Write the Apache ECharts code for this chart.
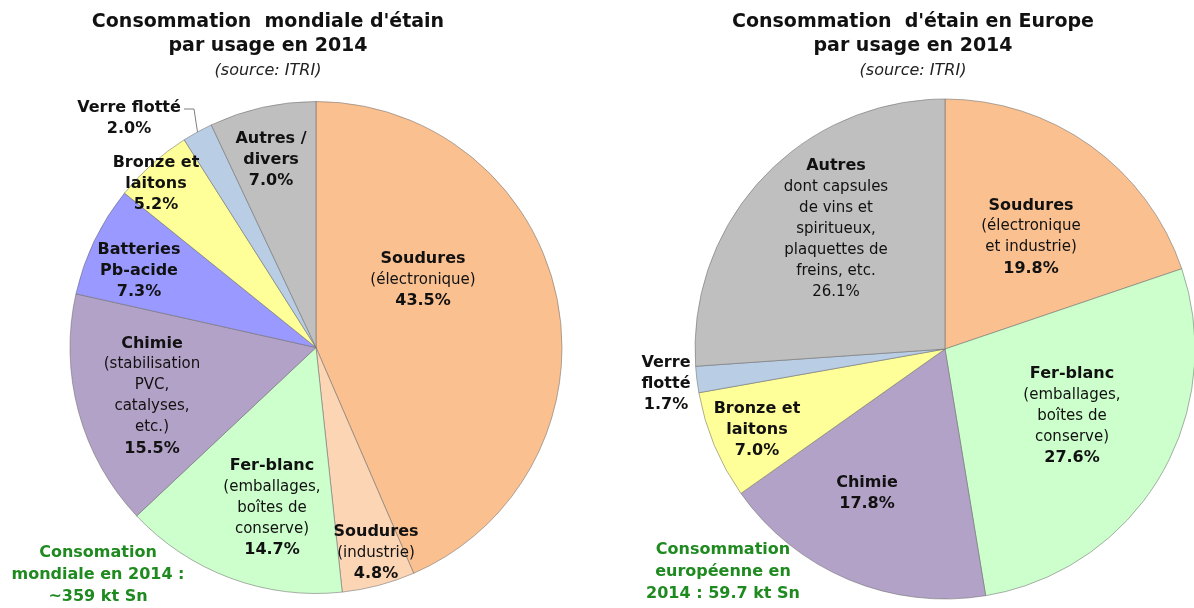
<!DOCTYPE html>
<html>
<head>
<meta charset="utf-8">
<script src="https://cdn.jsdelivr.net/npm/echarts@6/dist/echarts.min.js"></script>
<style>
  html, body { margin: 0; padding: 0; background: #ffffff; }
  #chart { width: 1194px; height: 608px; }
</style>
</head>
<body>
<div id="chart"></div>
<script>
// World tin consumption by use, 2014 (%)
const worldCategories = ['Soudures (électronique)', 'Soudures (industrie)', 'Fer-blanc', 'Chimie',
  'Batteries Pb-acide', 'Bronze et laitons', 'Verre flotté', 'Autres / divers'];
const worldValues = [43.5, 4.8, 14.7, 15.5, 7.3, 5.2, 2.0, 7.0];
const worldHeads = ['Soudures', 'Soudures', 'Fer-blanc', 'Chimie', 'Batteries\nPb-acide',
  'Bronze et\nlaitons', 'Verre flotté', 'Autres /\ndivers'];
const worldDetails = ['(électronique)', '(industrie)', '(emballages,\nboîtes de\nconserve)',
  '(stabilisation\nPVC,\ncatalyses,\netc.)', '', '', '', ''];
const worldColors = ['#FAC090', '#FCD5B5', '#CCFFCC', '#B3A2C7', '#9999FF', '#FFFF99', '#B9CDE5', '#BFBFBF'];

// European tin consumption by use, 2014 (%)
const europeCategories = ['Soudures', 'Fer-blanc', 'Chimie', 'Bronze et laitons', 'Verre flotté', 'Autres'];
const europeValues = [19.8, 27.6, 17.8, 7.0, 1.7, 26.1];
const europeHeads = ['Soudures', 'Fer-blanc', 'Chimie', 'Bronze et\nlaitons', 'Verre\nflotté', 'Autres'];
const europeDetails = ['(électronique\net industrie)', '(emballages,\nboîtes de\nconserve)', '', '', '',
  'dont capsules\nde vins et\nspiritueux,\nplaquettes de\nfreins, etc.'];
const europeColors = ['#FAC090', '#CCFFCC', '#B3A2C7', '#FFFF99', '#B9CDE5', '#BFBFBF'];

// Layout of the two pies and where each label block is centred
const FONT = "'DejaVu Sans', 'Liberation Sans', sans-serif";
const WORLD_PIE = { center: [316, 347.5], radius: 246 };
const EUROPE_PIE = { center: [945, 349], radius: 250 };
const worldLabelAt = [[423, 280], [376, 553], [272, 508], [152, 396], [139, 271], [156, 184], [129, 118], [271, 160]];
const europeLabelAt = [[1031, 237], [1072, 416], [867, 493], [757, 430], [666, 384], [836, 229]];
const WORLD_LEADER_INDEX = 6;          // "Verre flotté" label sits outside with a leader line
const WORLD_LEADER_BEND = [[194, 109], [184, 109]];
const EUROPE_PLAIN_PERCENT = 5;        // "Autres" percentage is set in regular weight

function labelText(head, detail, value, plainPercent) {
  const lines = [];
  head.split('\n').forEach(l => lines.push('{b|' + l + '}'));
  if (detail) detail.split('\n').forEach(l => lines.push('{n|' + l + '}'));
  lines.push((plainPercent ? '{n|' : '{b|') + value.toFixed(1) + '%}');
  return lines.join('\n');
}

const rich = {
  b: { fontFamily: FONT, fontWeight: 'bold', fontSize: 16, lineHeight: 21, color: '#111111', align: 'center' },
  n: { fontFamily: FONT, fontSize: 15, lineHeight: 21, color: '#111111', align: 'center' }
};

function buildData(cats, vals, colors, heads, details, opts) {
  return cats.map((name, i) => {
    const item = {
      name: name,
      value: vals[i],
      itemStyle: { color: colors[i] },
      label: {
        formatter: labelText(heads[i], details[i], vals[i], opts.plainIndex === i)
      }
    };
    if (opts.leaderIndex === i) {
      item.label.position = 'outside';
      item.labelLine = { show: true, lineStyle: { color: '#7f7f7f', width: 1 } };
    }
    return item;
  });
}

// point on the rim of a pie at the middle of slice i (clockwise from 12 o'clock)
function rimPoint(vals, i, pie) {
  const total = vals.reduce((a, b) => a + b, 0);
  let before = 0;
  for (let k = 0; k < i; k++) before += vals[k];
  const theta = (before + vals[i] / 2) / total * 2 * Math.PI;
  return [pie.center[0] + pie.radius * Math.sin(theta), pie.center[1] - pie.radius * Math.cos(theta)];
}

function pieSeries(data, pie, labelAt, vals, leaderIndex) {
  return {
    type: 'pie',
    center: pie.center,
    radius: [0, pie.radius],
    startAngle: 90,
    clockwise: true,
    avoidLabelOverlap: false,
    silent: true,
    emphasis: { disabled: true },
    itemStyle: { borderColor: 'rgba(110,110,110,0.55)', borderWidth: 1 },
    label: { show: true, position: 'inside', rich: rich, fontFamily: FONT },
    labelLine: { show: false },
    labelLayout: function (params) {
      const p = labelAt[params.dataIndex];
      const out = { x: p[0], y: p[1], align: 'center', verticalAlign: 'middle' };
      if (params.dataIndex === leaderIndex) {
        out.labelLinePoints = [rimPoint(vals, leaderIndex, pie)].concat(WORLD_LEADER_BEND);
      }
      return out;
    },
    data: data
  };
}

function titleBlock(cx, line1) {
  return [
    { type: 'text', x: cx, y: 22, style: { text: line1, font: 'bold 19px ' + FONT, fill: '#111111', align: 'center', verticalAlign: 'middle' } },
    { type: 'text', x: cx, y: 46, style: { text: 'par usage en 2014', font: 'bold 19px ' + FONT, fill: '#111111', align: 'center', verticalAlign: 'middle' } },
    { type: 'text', x: cx, y: 71, style: { text: '(source: ITRI)', font: 'italic 16px ' + FONT, fill: '#222222', align: 'center', verticalAlign: 'middle' } }
  ];
}

function noteBlock(cx, cy, text) {
  return {
    type: 'text', x: cx, y: cy,
    style: { text: text, font: 'bold 16px ' + FONT, fill: '#1F8A1F', align: 'center', verticalAlign: 'middle', lineHeight: 22 }
  };
}

const chart = echarts.init(document.getElementById('chart'), null, { renderer: 'canvas' });
chart.setOption({
  animation: false,
  backgroundColor: '#ffffff',
  series: [
    pieSeries(buildData(worldCategories, worldValues, worldColors, worldHeads, worldDetails,
      { leaderIndex: WORLD_LEADER_INDEX, plainIndex: -1 }), WORLD_PIE, worldLabelAt, worldValues, WORLD_LEADER_INDEX),
    pieSeries(buildData(europeCategories, europeValues, europeColors, europeHeads, europeDetails,
      { leaderIndex: -1, plainIndex: EUROPE_PLAIN_PERCENT }), EUROPE_PIE, europeLabelAt, europeValues, -1)
  ],
  graphic: [].concat(
    titleBlock(268, 'Consommation  mondiale d\'étain'),
    titleBlock(913, 'Consommation  d\'étain en Europe'),
    [noteBlock(98, 575, 'Consomation\nmondiale en 2014 :\n~359 kt Sn'),
     noteBlock(723, 572, 'Consommation\neuropéenne en\n2014 : 59.7 kt Sn')]
  )
});
</script>
</body>
</html>
